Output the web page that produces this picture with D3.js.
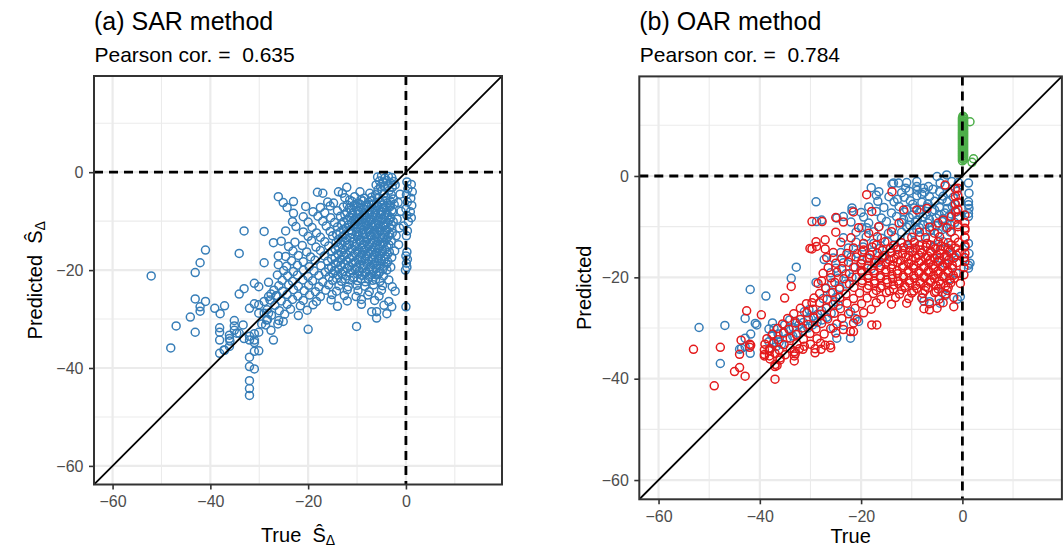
<!DOCTYPE html>
<html>
<head>
<meta charset="utf-8">
<script src="https://cdn.jsdelivr.net/npm/d3@7"></script>
<style>
  html, body { margin: 0; padding: 0; background: #ffffff; }
  svg { display: block; font-family: "Liberation Sans", Arial, Helvetica, sans-serif; }
</style>
</head>
<body>
<svg id="chart" width="1064" height="548"></svg>
<script>
// ---- shared axis settings ----
const axisDomain = [-63.8, 19.65];
const majorTicks = [-60, -40, -20, 0];
const minorTicks = [-50, -30, -10, 10];
const pearsonCor = [0.635, 0.784];
const panelTitles = ["(a) SAR method", "(b) OAR method"];

// ---- (a) SAR method: [true, predicted] ----
const sarPoints = [
  [-52.1,-21.2],[-48.1,-35.9],[-47.0,-31.4],[-44.1,-29.6],[-43.1,-20.5],[-42.1,-18.5],[-41.0,-15.9],
  [-43.1,-25.9],[-41.0,-26.4],[-42.1,-27.5],[-42.1,-28.4],[-43.1,-32.7],[-39.1,-27.8],[-37.1,-27.3],
  [-38.0,-28.9],[-34.1,-16.6],[-33.1,-12.0],[-29.0,-12.1],[-27.1,-14.4],[-29.0,-18.5],[-26.1,-5.0],
  [-25.1,-6.2],[-23.0,-6.0],[-24.3,-7.2],[-23.0,-8.4],[-23.2,-10.1],[-26.1,-17.1],[-26.1,-18.9],
  [-26.3,-21.0],[-31.0,-22.7],[-30.1,-23.4],[-28.1,-22.5],[-33.1,-23.8],[-34.1,-24.9],[-32.0,-27.8],
  [-31.0,-26.9],[-30.1,-27.1],[-29.0,-26.4],[-28.1,-25.4],[-27.6,-24.9],[-26.6,-25.3],[-29.0,-28.8],
  [-28.1,-28.8],[-30.1,-28.8],[-28.5,-30.2],[-29.5,-31.0],[-38.1,-31.8],[-38.1,-32.7],[-38.1,-34.3],
  [-38.1,-37.0],[-37.1,-36.4],[-36.1,-35.6],[-36.1,-33.3],[-36.1,-34.0],[-35.1,-30.3],[-35.1,-31.4],
  [-35.1,-32.3],[-34.1,-32.9],[-33.1,-34.0],[-32.0,-34.3],[-31.0,-34.3],[-31.0,-34.8],[-32.0,-33.5],
  [-31.0,-33.0],[-30.1,-32.7],[-32.0,-37.8],[-31.0,-36.6],[-30.1,-36.5],[-32.0,-39.7],[-31.0,-40.2],
  [-32.0,-42.6],[-32.0,-44.2],[-32.0,-45.6],[-27.1,-34.3],[-34.6,-32.9],[-33.3,-31.2],[-36.0,-34.5],
  [-37.2,-36.3],
  [-5.8,-1.0],[-5.0,-0.8],[-4.3,-1.2],[-3.6,-0.9],[-2.9,-1.1],[-5.4,-1.8],[-4.6,-2.0],[-3.9,-1.7],
  [-3.2,-2.2],[-2.5,-1.9],[-6.1,-2.6],[-5.2,-2.9],[-4.4,-3.0],[-3.7,-2.8],[-2.8,-3.1],[-5.7,-3.6],
  [-4.9,-3.8],[-3.4,-3.7],[-2.2,-2.6],[-12.1,-3.1],
  [0.2,-2.0],[1.1,-2.5],[0.4,-3.4],[1.3,-4.0],[0.1,-4.6],[1.0,-5.3],[0.3,-6.1],[1.2,-6.8],[0.0,-7.5],
  [0.9,-8.1],[0.2,-8.8],[1.1,-9.3],[0.5,-10.1],[-0.5,-11.0],[0.3,-12.0],[0.1,-13.0],[0.2,-16.3],
  [0.0,-17.1],[0.3,-17.8],[0.1,-18.6],[0.2,-19.4],[-0.1,-20.0],[0.0,-27.5],[-1.2,-4.5],[-1.6,-6.2],
  [-1.0,-8.0],[-1.8,-9.6],[-1.3,-11.4],[-2.0,-13.0],[-1.5,-14.8],[-2.3,-16.1],
  [-18.1,-4.1],[-17.0,-4.3],[-13.8,-4.0],[-13.0,-4.3],[-9.4,-4.0],[-7.4,-4.3],[-6.2,-4.6],[-4.5,-4.4],[-3.0,-4.6],
  [-12.5,-5.2],[-10.5,-5.0],[-8.5,-5.3],[-7.0,-5.1],[-5.8,-5.4],[-4.1,-5.2],[-2.6,-5.5],
  [-16.0,-6.1],[-14.8,-6.3],[-11.0,-6.0],[-9.9,-6.4],[-8.8,-5.9],[-7.6,-6.2],[-6.5,-6.5],[-5.2,-6.1],[-3.8,-6.3],[-2.4,-6.6],
  [-20.5,-7.0],[-17.5,-7.2],[-15.5,-6.9],[-12.8,-7.1],[-11.6,-7.4],[-10.2,-7.0],[-9.2,-7.3],[-8.0,-7.1],[-6.9,-7.4],[-5.8,-7.0],[-4.6,-7.3],[-3.3,-7.1],
  [-19.0,-8.1],[-16.6,-8.3],[-14.0,-7.9],[-12.1,-8.2],[-10.9,-8.4],[-9.7,-8.0],[-8.5,-8.3],[-7.3,-8.1],[-6.2,-8.4],[-5.0,-8.0],[-3.9,-8.3],[-2.7,-8.1],
  [-21.0,-9.1],[-18.0,-9.0],[-15.4,-9.3],[-13.4,-9.0],[-11.5,-9.2],[-10.3,-9.4],[-9.1,-9.0],[-8.0,-9.3],[-6.8,-9.1],[-5.6,-9.4],[-4.4,-9.0],[-3.1,-9.3],
  [-20.0,-10.2],[-17.0,-10.0],[-14.6,-10.3],[-12.7,-10.1],[-11.1,-10.4],[-9.8,-10.0],[-8.6,-10.3],[-7.5,-10.1],[-6.3,-10.4],[-5.1,-10.0],[-3.8,-10.3],[-2.6,-10.1],
  [-22.5,-11.1],[-19.2,-11.3],[-16.3,-11.0],[-14.0,-11.2],[-12.2,-11.4],[-10.6,-11.1],[-9.4,-11.3],[-8.2,-11.0],[-7.0,-11.2],[-5.8,-11.4],[-4.6,-11.1],[-3.3,-11.3],
  [-24.6,-12.0],[-21.0,-12.2],[-18.3,-12.4],[-15.5,-12.1],[-13.5,-12.3],[-11.7,-12.0],[-10.1,-12.2],[-8.9,-12.4],[-7.7,-12.1],[-6.5,-12.3],[-5.3,-12.0],[-4.1,-12.2],[-2.8,-12.4],
  [-20.0,-13.1],[-17.5,-13.3],[-15.0,-13.0],[-13.0,-13.2],[-11.4,-13.4],[-9.9,-13.1],[-8.6,-13.3],[-7.3,-13.0],[-6.0,-13.2],[-4.8,-13.4],[-3.6,-13.1],
  [-25.5,-14.1],[-22.7,-14.3],[-19.3,-14.0],[-16.6,-14.2],[-14.3,-14.4],[-12.5,-14.1],[-10.9,-14.3],[-9.5,-14.0],[-8.2,-14.2],[-6.9,-14.4],[-5.7,-14.1],[-4.4,-14.3],[-3.0,-14.0],
  [-24.0,-15.2],[-21.2,-15.0],[-18.4,-15.3],[-15.8,-15.1],[-13.8,-15.4],[-12.0,-15.0],[-10.4,-15.2],[-9.0,-15.4],[-7.7,-15.1],[-6.5,-15.3],[-5.2,-15.0],[-3.9,-15.2],
  [-23.1,-16.1],[-20.3,-16.3],[-17.5,-16.0],[-15.1,-16.2],[-13.2,-16.4],[-11.4,-16.1],[-9.9,-16.3],[-8.6,-16.0],[-7.3,-16.2],[-6.0,-16.4],[-4.8,-16.1],[-3.4,-16.3],
  [-24.6,-17.2],[-22.0,-17.0],[-19.5,-17.3],[-16.7,-17.1],[-14.5,-17.4],[-12.7,-17.0],[-10.9,-17.2],[-9.4,-17.4],[-8.1,-17.1],[-6.8,-17.3],[-5.5,-17.0],[-4.2,-17.2],[-2.9,-17.4],
  [-23.4,-18.1],[-21.0,-18.3],[-18.6,-18.0],[-16.0,-18.2],[-13.9,-18.4],[-12.1,-18.1],[-10.4,-18.3],[-9.0,-18.0],[-7.6,-18.2],[-6.3,-18.4],[-5.0,-18.1],[-3.7,-18.3],
  [-24.4,-19.2],[-22.2,-19.0],[-19.8,-19.3],[-17.4,-19.1],[-15.2,-19.4],[-13.3,-19.0],[-11.6,-19.2],[-10.0,-19.4],[-8.6,-19.1],[-7.2,-19.3],[-5.9,-19.0],[-4.5,-19.2],[-3.1,-19.4],
  [-25.0,-20.1],[-23.0,-20.3],[-21.0,-20.0],[-18.8,-20.2],[-16.5,-20.4],[-14.6,-20.1],[-12.8,-20.3],[-11.1,-20.0],[-9.5,-20.2],[-8.1,-20.4],[-6.7,-20.1],[-5.3,-20.3],[-3.9,-20.0],
  [-24.2,-21.2],[-22.2,-21.0],[-20.0,-21.3],[-17.8,-21.1],[-15.7,-21.4],[-13.9,-21.0],[-12.2,-21.2],[-10.6,-21.4],[-9.0,-21.1],[-7.5,-21.3],[-6.0,-21.0],[-4.6,-21.2],
  [-25.3,-22.1],[-23.2,-22.3],[-21.1,-22.0],[-19.1,-22.2],[-17.0,-22.4],[-15.0,-22.1],[-13.2,-22.3],[-11.5,-22.0],[-9.9,-22.2],[-8.3,-22.4],[-6.8,-22.1],[-5.3,-22.3],[-3.5,-22.0],
  [-26.0,-23.2],[-24.0,-23.0],[-22.0,-23.3],[-19.9,-23.1],[-17.8,-23.4],[-15.8,-23.0],[-13.7,-23.2],[-11.8,-23.4],[-10.0,-23.1],[-8.4,-23.3],[-6.6,-23.0],[-4.8,-23.2],[-2.8,-23.4],
  [-27.0,-24.1],[-25.2,-24.3],[-23.0,-24.0],[-20.8,-24.2],[-18.5,-24.4],[-16.4,-24.1],[-14.2,-24.3],[-12.0,-24.0],[-9.8,-24.2],[-7.5,-24.4],[-5.0,-24.1],[-2.2,-24.3],
  [-26.4,-25.2],[-24.3,-25.0],[-22.1,-25.3],[-19.7,-25.1],[-17.5,-25.4],[-15.1,-25.0],[-12.6,-25.2],[-10.2,-25.4],[-7.8,-25.1],[-5.5,-25.3],
  [-27.8,-26.1],[-25.5,-26.3],[-23.2,-26.0],[-21.0,-26.2],[-18.3,-26.4],[-15.3,-26.1],[-12.0,-26.3],[-9.1,-26.0],[-6.4,-26.2],[-3.5,-26.4],
  [-26.8,-27.2],[-24.3,-27.0],[-21.6,-27.3],[-19.0,-27.1],[-14.0,-27.4],[-9.1,-27.0],[-4.5,-27.2],[-2.9,-27.5],
  [-28.4,-28.1],[-25.9,-28.3],[-23.6,-28.0],[-20.2,-28.2],[-7.0,-28.5],[-6.0,-28.5],
  [-27.5,-29.2],[-24.8,-29.0],[-22.0,-29.3],[-3.9,-28.9],
  [-28.3,-30.1],[-26.0,-30.3],[-25.1,-30.5],[-6.0,-29.8],
  [-28.7,-31.2],[-26.2,-31.0],[-10.1,-31.5],
  [-20.0,-32.1],[-27.6,-32.3],
  // core of the cloud
  [-11.5,-5.7],[-9.2,-5.6],[-6.9,-5.8],[-4.7,-5.7],[-3.2,-5.9],
  [-12.0,-6.7],[-10.6,-6.8],[-9.3,-6.6],[-8.1,-6.8],[-7.0,-6.7],[-5.9,-6.9],[-4.7,-6.7],[-3.2,-6.8],
  [-11.2,-7.7],[-9.9,-7.8],[-8.6,-7.6],[-7.5,-7.8],[-6.3,-7.7],[-5.2,-7.9],[-4.0,-7.7],[-2.9,-7.8],
  [-12.5,-8.7],[-11.0,-8.8],[-9.7,-8.6],[-8.5,-8.8],[-7.4,-8.7],[-6.2,-8.9],[-5.0,-8.7],[-3.7,-8.8],
  [-11.9,-9.7],[-10.7,-9.8],[-9.5,-9.6],[-8.3,-9.8],[-7.1,-9.7],[-5.9,-9.9],[-4.7,-9.7],[-3.4,-9.8],
  [-13.2,-10.7],[-11.8,-10.8],[-10.4,-10.6],[-9.2,-10.8],[-8.0,-10.7],[-6.8,-10.9],[-5.6,-10.7],[-4.3,-10.8],[-3.0,-10.7],
  [-12.8,-11.7],[-11.3,-11.8],[-10.0,-11.6],[-8.8,-11.8],[-7.6,-11.7],[-6.4,-11.9],[-5.2,-11.7],[-3.9,-11.8],
  [-14.2,-12.7],[-12.5,-12.8],[-11.0,-12.6],[-9.6,-12.8],[-8.3,-12.7],[-7.1,-12.9],[-5.9,-12.7],[-4.6,-12.8],[-3.3,-12.7],
  [-13.8,-13.7],[-12.1,-13.8],[-10.6,-13.6],[-9.2,-13.8],[-7.9,-13.7],[-6.6,-13.9],[-5.3,-13.7],[-4.0,-13.8],
  [-13.2,-14.7],[-11.6,-14.8],[-10.1,-14.6],[-8.7,-14.8],[-7.4,-14.7],[-6.1,-14.9],[-4.8,-14.7],[-3.5,-14.8],
  [-14.5,-15.7],[-12.8,-15.8],[-11.1,-15.6],[-9.6,-15.8],[-8.2,-15.7],[-6.9,-15.9],[-5.6,-15.7],[-4.3,-15.8],
  [-13.9,-16.7],[-12.1,-16.8],[-10.4,-16.6],[-9.0,-16.8],[-7.7,-16.7],[-6.4,-16.9],[-5.1,-16.7],[-3.8,-16.8],
  [-15.2,-17.7],[-13.3,-17.8],[-11.5,-17.6],[-9.8,-17.8],[-8.4,-17.7],[-7.0,-17.9],[-5.7,-17.7],[-4.4,-17.8],
  [-14.4,-18.7],[-12.6,-18.8],[-10.9,-18.6],[-9.4,-18.8],[-8.0,-18.7],[-6.7,-18.9],[-5.3,-18.7],[-4.0,-18.8],
  [-15.8,-19.7],[-13.8,-19.8],[-12.0,-19.6],[-10.4,-19.8],[-8.9,-19.7],[-7.5,-19.9],[-6.1,-19.7],[-4.7,-19.8],
  [-14.9,-20.7],[-13.1,-20.8],[-11.4,-20.6],[-9.9,-20.8],[-8.4,-20.7],[-7.0,-20.9],[-5.6,-20.7],
  [-14.2,-21.7],[-12.4,-21.8],[-10.8,-21.6],[-9.2,-21.8],[-7.7,-21.7],[-6.2,-21.9]
];

// ---- (b) OAR method: [true, predicted] per group ----
const oarBlue = [
  [-52.0,-29.9],[-47.8,-37.0],[-46.9,-29.5],[-44.0,-34.2],[-42.9,-33.7],[-41.9,-35.0],[-42.9,-28.1],
  [-41.9,-22.4],[-38.8,-23.7],[-40.9,-29.1],[-40.6,-29.4],[-41.8,-31.2],[-42.9,-32.0],[-43.6,-34.0],
  [-28.9,-5.1],[-28.8,-9.0],[-27.8,-8.7],[-27.3,-16.5],[-32.8,-18.0],[-33.8,-20.2],[-28.9,-21.0],
  [-21.8,-6.9],[-18.0,-2.3],
  [-38.2,-30.2],[-37.2,-30.1],[-35.1,-29.4],[-34.1,-28.4],[-33.0,-28.7],[-31.2,-26.8],[-30.3,-26.4],
  [-38.2,-32.7],[-37.2,-32.8],[-36.2,-32.8],[-37.6,-31.5],[-36.4,-31.2],[-35.3,-30.8],[-34.3,-30.1],
  [-33.4,-29.9],[-32.3,-29.4],[-31.4,-28.9],[-30.4,-28.2],[-29.5,-27.7],[-28.6,-27.3],[-27.8,-26.6],
  [-26.9,-26.1],[-38.0,-34.0],[-36.8,-33.7],[-35.7,-33.2],[-34.6,-32.0],[-33.5,-31.6],[-32.5,-31.0],
  [-31.5,-30.6],[-30.5,-30.0],[-29.6,-29.4],[-28.7,-28.9],[-27.7,-28.4],[-26.8,-27.9],[-25.9,-27.1],
  [-37.5,-29.0],[-25.1,-24.8],[-24.5,-25.5],[-22.1,-26.8],[-21.2,-28.1],[-20.5,-28.7],[-22.1,-32.0],
  [-24.8,-32.0],[-25.5,-30.0],[-23.5,-29.5],
  [-13.6,-1.4],[-12.6,-1.4],[-11.0,-1.3],[-9.0,-1.1],[-9.0,-2.1],[-7.7,-2.4],[-6.7,-2.1],[-5.0,-0.1],
  [-4.4,-1.4],[-3.1,0.2],[-2.1,-1.1],[-0.8,-1.3],[-8.9,-2.8],[-13.9,-1.6],
  [-16.5,-3.1],[-12.0,-3.3],[-10.5,-3.0],[-7.5,-3.2],[-4.5,-3.1],[-2.5,-3.3],[-1.0,-3.0],
  [-17.0,-3.8],[-14.5,-4.1],[-11.5,-4.2],[-9.0,-3.9],[-6.5,-4.1],[-3.8,-4.0],[-1.8,-4.2],
  [-16.7,-5.0],[-13.5,-5.1],[-10.3,-4.9],[-8.0,-5.2],[-5.5,-5.0],[-3.0,-5.1],[-0.8,-5.3],
  [-21.8,-6.3],[-18.5,-6.1],[-15.5,-6.2],[-12.5,-6.0],[-9.5,-6.3],[-7.0,-6.1],[-4.5,-6.2],[-2.0,-6.0],
  [-20.0,-7.2],[-17.0,-7.0],[-14.0,-7.3],[-11.5,-7.1],[-8.5,-7.2],[-6.0,-7.0],[-3.5,-7.3],[-1.2,-7.1],
  [-24.8,-8.3],[-23.5,-8.0],[-19.5,-8.1],[-16.0,-8.3],[-13.0,-8.0],[-10.5,-8.2],[-7.8,-8.1],[-5.2,-8.3],[-2.7,-8.0],
  [-22.0,-9.1],[-18.5,-9.3],[-15.0,-9.0],[-12.0,-9.2],[-9.3,-9.1],[-6.8,-9.3],[-4.0,-9.0],[-1.5,-9.2],
  [-19.9,-10.2],[-18.9,-10.2],[-16.5,-10.0],[-13.8,-10.3],[-11.0,-10.1],[-8.5,-10.2],[-6.0,-10.0],[-3.2,-10.3],
  [-21.0,-11.1],[-17.5,-11.0],[-14.6,-11.3],[-12.0,-11.1],[-9.7,-11.2],[-7.3,-11.0],[-4.8,-11.3],[-2.4,-11.1],
  [-23.5,-12.2],[-19.0,-12.0],[-16.0,-12.3],[-13.4,-12.1],[-10.8,-12.2],[-8.4,-12.0],[-5.8,-12.3],
  [-21.0,-13.1],[-17.5,-13.3],[-14.8,-13.0],[-12.0,-13.2],[-9.5,-13.1],[-7.0,-13.3],[-3.8,-13.0],
  [-22.5,-14.2],[-19.6,-14.0],[-16.4,-14.3],[-13.0,-14.1],[-10.4,-14.2],[-5.5,-14.0],[-2.8,-14.3],
  [-24.0,-15.1],[-20.8,-15.3],[-17.8,-15.0],[-14.2,-15.2],[-8.0,-15.1],[-2.0,-15.3],
  [-25.5,-16.2],[-22.0,-16.0],[-18.8,-16.3],[-15.5,-16.1],[-4.5,-16.2],[-1.5,-16.0],
  [-23.5,-17.1],[-20.0,-17.3],[-16.5,-17.0],[-3.5,-17.2],
  [-25.0,-18.2],[-21.5,-18.0],[-18.0,-18.3],
  [-26.0,-19.1],[-23.0,-19.3],[-19.8,-19.0],[-1.2,-19.2],
  [-24.5,-20.2],[-21.8,-20.0],[-2.5,-20.3],
  [-25.8,-21.1],[-22.9,-21.3],
  [-27.0,-22.2],[-24.2,-22.0],
  [-26.0,-23.1],[-4.0,-23.0],
  [-27.5,-24.2],[-25.0,-24.0],[-8.0,-24.1],[-1.0,-24.3],
  [-7.6,-24.7],[-6.5,-24.8],[-3.4,-23.6],[-0.4,-23.8],[-4.4,-25.1],
  [1.2,-1.4],[1.3,-3.4],[1.2,-5.1],[1.2,-5.7],[1.3,-6.4],[1.2,-7.4],[1.2,-8.0],[1.2,-13.3],
  [1.3,-15.3],[1.2,-17.6],[1.2,-18.2],[1.5,-17.2],
  [-11.2,-2.4],[-8.0,-3.6],[-5.8,-2.6],[-3.4,-2.0],[-12.8,-4.6],[-9.8,-5.6],[-6.8,-5.5],[-4.0,-4.6],
  [-1.5,-5.6],[-11.0,-6.6],[-8.2,-6.6],[-5.5,-6.7],[-3.0,-6.4],[-9.8,-7.7],[-7.1,-7.6],[-4.6,-7.6],
  [-2.2,-7.5],[-11.6,-8.6],[-8.9,-8.7],[-6.5,-8.6],[-3.8,-8.4],[-10.4,-9.7],[-7.8,-9.6],[-5.1,-9.7],
  [-2.3,-9.7],[-9.0,-10.6],[-6.4,-10.7],[-4.0,-10.6]
];

const oarRed = [
  [-53.1,-34.2],[-49.0,-41.4],[-47.8,-33.8],[-45.0,-38.6],[-44.0,-37.8],[-42.9,-39.5],[-44.0,-35.2],
  [-42.0,-33.2],[-42.0,-33.8],[-39.1,-34.3],[-39.1,-35.5],[-38.1,-34.5],[-38.1,-35.5],[-37.0,-37.6],
  [-37.0,-40.1],[-36.0,-35.9],[-33.2,-34.7],[-33.2,-35.5],[-33.2,-36.5],[-32.2,-34.1],[-31.2,-33.6],
  [-29.1,-34.9],[-27.9,-34.2],[-27.1,-33.4],[-26.0,-33.9],[-36.6,-37.4],[-43.7,-32.4],[-41.8,-33.4],
  [-42.6,-26.6],[-39.7,-27.4],[-35.1,-24.1],[-33.8,-21.8],[-29.7,-25.0],[-27.8,-20.7],[-29.7,-9.0],
  [-29.7,-14.4],[-28.9,-13.0],[-28.8,-13.9],[-27.1,-12.6],[-27.1,-14.4],[-30.1,-14.3],[-27.7,-9.0],
  [-18.9,-3.7],[-13.9,-3.1],[-17.9,-7.0],[-11.6,-6.7],[-9.0,-6.7],[-7.0,-6.4],[-3.4,-1.8],
  [-4.8,-9.3],[-3.8,-8.7],[-1.4,-2.5],[-1.4,-4.0],[-1.4,-5.5],[-1.4,-7.0],[-2.2,-8.0],
  [-25.0,-8.2],[-23.5,-9.1],[-21.5,-7.1],[-12.5,-9.3],
  [-20.5,-10.2],[-16.5,-10.0],[-6.5,-10.1],[-3.0,-10.2],[-0.9,-10.0],[0.5,-10.3],
  [-25.0,-11.1],[-18.5,-11.3],[-14.0,-11.0],[-8.5,-11.1],[-5.5,-11.3],[-2.2,-11.0],
  [-22.0,-12.2],[-16.8,-12.0],[-10.0,-12.1],[-7.3,-12.2],[-4.5,-12.0],[-1.5,-12.3],[0.5,-12.1],
  [-24.0,-13.1],[-19.5,-13.3],[-15.3,-13.0],[-12.0,-13.2],[-9.5,-13.1],[-7.0,-13.3],[-4.8,-13.0],[-2.8,-13.2],[-0.8,-13.1],
  [-21.5,-14.2],[-17.8,-14.0],[-14.2,-14.3],[-11.6,-14.1],[-9.3,-14.2],[-7.2,-14.0],[-5.3,-14.3],[-3.4,-14.1],[-1.4,-14.2],[0.5,-14.0],
  [-25.5,-15.1],[-22.8,-15.3],[-19.8,-15.0],[-16.8,-15.2],[-14.0,-15.1],[-11.8,-15.3],[-9.8,-15.0],[-8.0,-15.2],[-6.2,-15.1],[-4.4,-15.3],[-2.6,-15.0],[-0.6,-15.2],
  [-26.8,-16.1],[-23.8,-16.3],[-21.0,-16.0],[-18.4,-16.2],[-15.8,-16.1],[-13.5,-16.3],[-11.2,-16.0],[-9.2,-16.2],[-7.3,-16.1],[-5.5,-16.3],[-3.6,-16.0],[-1.7,-16.2],[0.4,-16.1],
  [-25.0,-17.2],[-22.5,-17.0],[-20.0,-17.3],[-17.4,-17.1],[-15.1,-17.2],[-12.8,-17.0],[-10.6,-17.3],[-8.6,-17.1],[-6.6,-17.2],[-4.8,-17.0],[-3.0,-17.3],[-1.1,-17.1],
  [-26.5,-18.1],[-23.8,-18.3],[-21.2,-18.0],[-18.8,-18.2],[-16.3,-18.1],[-14.0,-18.3],[-11.8,-18.0],[-9.6,-18.2],[-7.6,-18.1],[-5.7,-18.3],[-3.9,-18.0],[-2.0,-18.2],[0.3,-18.1],
  [-27.5,-19.2],[-24.8,-19.0],[-22.3,-19.3],[-19.8,-19.1],[-17.4,-19.2],[-15.1,-19.0],[-12.8,-19.3],[-10.6,-19.1],[-8.6,-19.2],[-6.7,-19.0],[-4.8,-19.3],[-2.8,-19.1],[-0.8,-19.2],
  [-26.0,-20.1],[-23.4,-20.3],[-21.0,-20.0],[-18.6,-20.2],[-16.2,-20.1],[-13.8,-20.3],[-11.6,-20.0],[-9.5,-20.2],[-7.5,-20.1],[-5.5,-20.3],[-3.6,-20.0],[-1.6,-20.2],
  [-28.5,-21.2],[-25.2,-21.0],[-22.3,-21.3],[-19.8,-21.1],[-17.3,-21.2],[-14.8,-21.0],[-12.5,-21.3],[-10.4,-21.1],[-8.3,-21.2],[-6.3,-21.0],[-4.3,-21.3],[-2.3,-21.1],[-0.4,-21.2],
  [-27.0,-22.1],[-24.3,-22.3],[-21.4,-22.0],[-18.8,-22.2],[-16.2,-22.1],[-13.6,-22.3],[-11.3,-22.0],[-9.0,-22.2],[-6.8,-22.1],[-4.8,-22.3],[-2.8,-22.0],
  [-28.2,-23.2],[-25.6,-23.0],[-23.0,-23.3],[-20.3,-23.1],[-17.6,-23.2],[-15.0,-23.0],[-12.4,-23.3],[-10.0,-23.1],[-7.8,-23.2],[-5.5,-23.0],[-3.3,-23.3],
  [-29.3,-24.1],[-26.7,-24.3],[-24.2,-24.0],[-21.5,-24.2],[-18.8,-24.1],[-16.1,-24.3],[-13.2,-24.0],[-10.6,-24.2],[-8.0,-24.1],[-4.6,-24.3],[-1.7,-24.0],
  [-30.8,-25.2],[-28.2,-25.0],[-25.5,-25.3],[-22.8,-25.1],[-19.9,-25.2],[-17.0,-25.0],[-14.0,-25.3],[-11.0,-25.1],[-6.5,-25.2],[-3.8,-25.0],
  [-32.0,-26.1],[-29.5,-26.3],[-26.8,-26.0],[-24.1,-26.2],[-21.2,-26.1],[-18.0,-26.3],[-7.6,-26.2],[-6.5,-26.4],[-5.0,-26.1],[-1.7,-25.8],
  [-33.3,-27.2],[-30.7,-27.0],[-28.0,-27.3],[-25.3,-27.1],[-22.5,-27.2],[-19.5,-27.0],
  [-34.5,-28.1],[-32.0,-28.3],[-29.3,-28.0],[-26.6,-28.2],[-23.8,-28.1],[-20.8,-28.3],
  [-35.5,-29.2],[-33.0,-29.0],[-30.5,-29.3],[-27.8,-29.1],[-24.8,-29.2],[-21.5,-29.0],[-17.9,-29.4],[-16.9,-29.4],
  [-36.5,-30.1],[-34.2,-30.3],[-31.6,-30.0],[-28.9,-30.2],[-26.0,-30.1],[-23.5,-30.3],[-22.1,-30.7],[-21.5,-30.7],
  [-37.5,-31.2],[-35.3,-31.0],[-32.8,-31.3],[-30.1,-31.1],[-27.3,-31.2],[-25.0,-31.0],
  [-38.6,-32.1],[-36.4,-32.3],[-34.0,-32.0],[-31.4,-32.2],[-28.7,-32.1],
  [-39.0,-33.2],[-37.3,-33.0],[-35.2,-33.3],[-32.7,-33.1],[-30.0,-33.2],[-28.0,-33.0],[-26.1,-33.4],
  [-38.0,-34.1],[-36.2,-34.3],[-34.0,-34.0],[-31.5,-34.2],[-29.1,-34.1],
  [-39.1,-35.2],[-37.0,-35.0],[-35.0,-35.3],[-33.0,-35.1],
  [-38.0,-36.1],[-36.0,-36.3],[-37.0,-37.2],
  [-0.9,-2.4],[-0.9,-3.8],[-0.9,-5.2],[-0.9,-6.6],[-0.9,-8.1],[-0.9,-9.6],[0.5,-7.7],[0.5,-9.2],
  [0.5,-10.7],[0.5,-12.2],[0.5,-13.7],[0.5,-15.3],[0.5,-16.9],[0.3,-19.5],
  // core of the cloud
  [-17.0,-13.6],[-13.6,-13.7],[-10.8,-13.5],[-8.5,-13.7],[-6.3,-13.6],[-4.2,-13.8],[-2.2,-13.6],
  [-19.5,-14.6],[-15.8,-14.7],[-12.8,-14.5],[-10.4,-14.7],[-8.3,-14.6],[-6.3,-14.8],[-4.4,-14.6],[-2.4,-14.7],
  [-18.2,-15.6],[-15.3,-15.7],[-12.8,-15.5],[-10.6,-15.7],[-8.6,-15.6],[-6.8,-15.8],[-5.0,-15.6],[-3.1,-15.7],[-1.2,-15.6],
  [-19.8,-16.6],[-17.0,-16.7],[-14.5,-16.5],[-12.2,-16.7],[-10.1,-16.6],[-8.2,-16.8],[-6.4,-16.6],[-4.6,-16.7],[-2.7,-16.6],
  [-18.6,-17.6],[-16.1,-17.7],[-13.8,-17.5],[-11.6,-17.7],[-9.6,-17.6],[-7.6,-17.8],[-5.8,-17.6],[-3.9,-17.7],[-2.0,-17.6],
  [-20.0,-18.6],[-17.5,-18.7],[-15.1,-18.5],[-12.9,-18.7],[-10.7,-18.6],[-8.6,-18.8],[-6.7,-18.6],[-4.8,-18.7],[-2.9,-18.6],
  [-18.6,-19.6],[-16.2,-19.7],[-13.9,-19.5],[-11.7,-19.7],[-9.6,-19.6],[-7.6,-19.8],[-5.7,-19.6],[-3.8,-19.7],[-1.8,-19.6],
  [-19.8,-20.6],[-17.4,-20.7],[-15.0,-20.5],[-12.7,-20.7],[-10.5,-20.6],[-8.4,-20.8],[-6.4,-20.6],[-4.5,-20.7],[-2.5,-20.6],
  [-18.5,-21.6],[-16.0,-21.7],[-13.6,-21.5],[-11.4,-21.7],[-9.2,-21.6],[-7.2,-21.8],[-5.2,-21.6],[-3.3,-21.7],
  [-17.0,-22.6],[-14.4,-22.7],[-12.0,-22.5],[-9.6,-22.7],[-7.4,-22.6],[-5.2,-22.8],[-3.0,-22.6]
];

const oarGreen = [
  [0.0,3.0],[0.25,3.2],[0.0,3.4],[0.25,3.6],[0.0,3.8],[0.25,4.0],[0.0,4.2],[0.25,4.4],[0.0,4.6],
  [0.25,4.8],[0.0,5.0],[0.25,5.2],[0.0,5.4],[0.25,5.6],[0.0,5.8],[0.25,6.0],[0.0,6.2],[0.25,6.4],
  [0.0,6.6],[0.25,6.8],[0.0,7.0],[0.25,7.2],[0.0,7.4],[0.25,7.6],[0.0,7.8],[0.25,8.0],[0.0,8.2],
  [0.25,8.4],[0.0,8.6],[0.25,8.8],[0.0,9.0],[0.25,9.2],[0.0,9.4],[0.25,9.6],[0.0,9.8],[0.25,10.0],
  [0.0,10.2],[0.25,10.4],[0.0,10.6],[0.25,10.8],[0.0,11.0],[0.25,11.2],[0.0,11.4],[0.25,11.6],
  [0.1,11.8],[1.5,10.7],[2.2,3.4],[1.9,2.7]
];

const colors = { blue: "#377EB8", red: "#E41A1C", green: "#4DAF4A" };

const panels = [
  {
    title: panelTitles[0], cor: pearsonCor[0],
    left: 94, right: 502, top: 76, bottom: 484.5,
    xTitleY: 541.7, yTitleX: 41.7, withHat: true,
    layers: [{ data: sarPoints, color: colors.blue }]
  },
  {
    title: panelTitles[1], cor: pearsonCor[1],
    left: 639.3, right: 1061.9, top: 76.4, bottom: 499.3,
    xTitleY: 543.3, yTitleX: 590.5, withHat: false,
    layers: [
      { data: oarBlue, color: colors.blue },
      { data: oarRed, color: colors.red },
      { data: oarGreen, color: colors.green }
    ]
  }
];

const svg = d3.select("#chart");
const NB = "\u00A0";
const fmt = d3.format("d");

// Axis title ending in Ŝ with a Δ subscript
function hatTitle(sel, prefix) {
  sel.append("tspan").text(prefix + NB + NB + "\u015C");
  sel.append("tspan").attr("font-size", 14).attr("dy", 3.3).text("\u0394");
}

panels.forEach((p, i) => {
  const g = svg.append("g");
  const x = d3.scaleLinear().domain(axisDomain).range([p.left, p.right]);
  const y = d3.scaleLinear().domain(axisDomain).range([p.bottom, p.top]);

  const clipId = "clip" + i;
  svg.append("clipPath").attr("id", clipId).append("rect")
    .attr("x", p.left).attr("y", p.top)
    .attr("width", p.right - p.left).attr("height", p.bottom - p.top);

  // titles
  g.append("text").attr("x", p.left).attr("y", 29.5)
    .attr("font-size", 25).attr("fill", "#000").text(p.title);
  g.append("text").attr("x", p.left + 0.5).attr("y", 61.7)
    .attr("font-size", 21).attr("fill", "#000")
    .text("Pearson cor. =" + NB + NB + d3.format(".3f")(p.cor));

  // grid
  const grid = g.append("g");
  grid.selectAll(".vmin").data(minorTicks).join("line")
    .attr("x1", d => x(d)).attr("x2", d => x(d)).attr("y1", p.top).attr("y2", p.bottom)
    .attr("stroke", "#EBEBEB").attr("stroke-width", 1.1);
  grid.selectAll(".hmin").data(minorTicks).join("line")
    .attr("y1", d => y(d)).attr("y2", d => y(d)).attr("x1", p.left).attr("x2", p.right)
    .attr("stroke", "#EBEBEB").attr("stroke-width", 1.1);
  grid.selectAll(".vmaj").data(majorTicks).join("line")
    .attr("x1", d => x(d)).attr("x2", d => x(d)).attr("y1", p.top).attr("y2", p.bottom)
    .attr("stroke", "#EBEBEB").attr("stroke-width", 2.2);
  grid.selectAll(".hmaj").data(majorTicks).join("line")
    .attr("y1", d => y(d)).attr("y2", d => y(d)).attr("x1", p.left).attr("x2", p.right)
    .attr("stroke", "#EBEBEB").attr("stroke-width", 2.2);

  // points
  const pts = g.append("g").attr("clip-path", `url(#${clipId})`);
  p.layers.forEach(layer => {
    pts.append("g").selectAll("circle").data(layer.data).join("circle")
      .attr("cx", d => x(d[0])).attr("cy", d => y(d[1])).attr("r", 4)
      .attr("fill", "none").attr("stroke", layer.color).attr("stroke-width", 1.5);
  });

  // reference lines
  const refs = g.append("g").attr("clip-path", `url(#${clipId})`);
  refs.append("line").attr("x1", p.left).attr("x2", p.right).attr("y1", y(0)).attr("y2", y(0))
    .attr("stroke", "#000").attr("stroke-width", 2.8).attr("stroke-dasharray", "9,6");
  refs.append("line").attr("y1", p.top).attr("y2", p.bottom).attr("x1", x(0)).attr("x2", x(0))
    .attr("stroke", "#000").attr("stroke-width", 2.8).attr("stroke-dasharray", "9,6");
  refs.append("line")
    .attr("x1", x(axisDomain[0])).attr("y1", y(axisDomain[0]))
    .attr("x2", x(axisDomain[1])).attr("y2", y(axisDomain[1]))
    .attr("stroke", "#000").attr("stroke-width", 1.8);

  // border
  g.append("rect").attr("x", p.left).attr("y", p.top)
    .attr("width", p.right - p.left).attr("height", p.bottom - p.top)
    .attr("fill", "none").attr("stroke", "#333333").attr("stroke-width", 2);

  // axes
  const xa = g.append("g").attr("transform", `translate(0,${p.bottom})`)
    .call(d3.axisBottom(x).tickValues(majorTicks).tickSize(5).tickPadding(6).tickFormat(fmt));
  const ya = g.append("g").attr("transform", `translate(${p.left},0)`)
    .call(d3.axisLeft(y).tickValues(majorTicks).tickSize(5).tickPadding(5.5).tickFormat(fmt));
  [xa, ya].forEach(a => {
    a.select(".domain").remove();
    a.attr("font-family", null).attr("font-size", 16);
    a.selectAll(".tick line").attr("stroke", "#333333").attr("stroke-width", 1.6);
    a.selectAll(".tick text").attr("fill", "#4D4D4D");
  });

  // axis titles
  const cx = (p.left + p.right) / 2, cy = (p.top + p.bottom) / 2;
  const xt = g.append("text").attr("x", cx).attr("y", p.xTitleY)
    .attr("text-anchor", "middle").attr("font-size", 20).attr("fill", "#000");
  const yt = g.append("text").attr("transform", `translate(${p.yTitleX},${cy}) rotate(-90)`)
    .attr("text-anchor", "middle").attr("font-size", 20).attr("fill", "#000");
  if (p.withHat) {
    hatTitle(xt, "True");
    hatTitle(yt, "Predicted");
  } else {
    xt.text("True");
    yt.text("Predicted");
  }
});
</script>
</body>
</html>
